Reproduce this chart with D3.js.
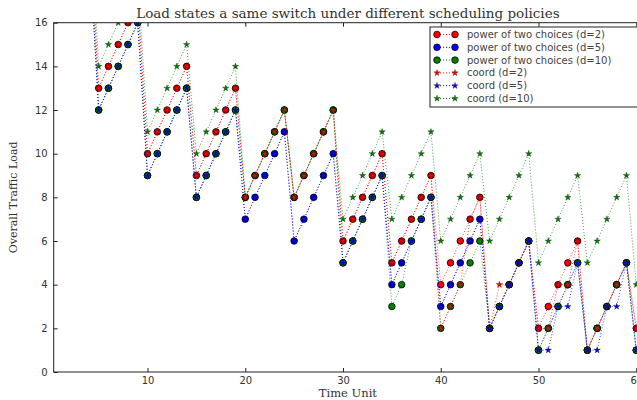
<!DOCTYPE html>
<html>
<head>
<meta charset="utf-8">
<script src="https://cdn.jsdelivr.net/npm/d3@7/dist/d3.min.js"></script>
<style>
	body { margin: 0; background: #fff; }
	svg { display: block; }
	.axis text { font-family: 'DejaVu Sans', sans-serif; font-size: 10px; fill: #333; }
	.axis path, .axis line { stroke: #222; }
	.label { font-family: 'DejaVu Serif', serif; fill: #333; }
	.legend text { font-family: 'DejaVu Sans', sans-serif; font-size: 10px; fill: #444; }
</style>
</head>
<body>
<svg id="chart"></svg>
<script>

// time axis (one point per time unit)
const timeUnits = [4, 5, 6, 7, 8, 9, 10, 11, 12, 13, 14, 15, 16, 17, 18, 19, 20, 21, 22, 23, 24, 25, 26, 27, 28, 29, 30, 31, 32, 33, 34, 35, 36, 37, 38, 39, 40, 41, 42, 43, 44, 45, 46, 47, 48, 49, 50, 51, 52, 53, 54, 55, 56, 57, 58, 59, 60]

// load values
const p2cD2 = [21, 13, 14, 15, 16, 17, 10, 11, 12, 13, 14, 9, 10, 11, 12, 13, 8, 9, 10, 11, 12, 8, 9, 10, 11, 12, 6, 7, 8, 9, 10, 5, 6, 7, 8, 9, 4, 5, 6, 7, 8, 2, 3, 4, 5, 6, 2, 3, 4, 5, 6, 1, 2, 3, 4, 5, 2]
const p2cD5 = [20, 12, 13, 14, 15, 16, 9, 10, 11, 12, 13, 8, 9, 10, 11, 12, 7, 8, 9, 10, 11, 6, 7, 8, 9, 10, 5, 6, 7, 8, 9, 4, 5, 6, 7, 8, 3, 4, 5, 6, 7, 2, 3, 4, 5, 6, 1, 2, 3, 4, 5, 1, 2, 3, 4, 5, 1]
const p2cD10 = [20, 12, 13, 14, 15, 16, 9, 10, 11, 12, 13, 8, 9, 10, 11, 12, 8, 9, 10, 11, 12, 8, 9, 10, 11, 12, 5, 6, 7, 8, 9, 3, 4, 6, 7, 8, 2, 3, 4, 5, 6, 2, 3, 4, 5, 6, 1, 2, 3, 4, 5, 1, 2, 3, 4, 5, 1]
const coordD2 = [21, 13, 14, 15, 16, 17, 10, 11, 12, 13, 14, 9, 10, 11, 12, 13, 8, 9, 10, 11, 12, 8, 9, 10, 11, 12, 6, 7, 8, 9, 10, 5, 6, 7, 8, 9, 2, 3, 4, 7, 8, 2, 4, 4, 5, 6, 2, 2, 4, 4, 6, 1, 2, 3, 4, 5, 2]
const coordD5 = [20, 12, 13, 14, 15, 16, 9, 10, 11, 12, 13, 8, 9, 10, 11, 12, 7, 8, 9, 10, 11, 6, 7, 8, 9, 10, 5, 6, 7, 8, 9, 4, 5, 6, 7, 8, 3, 4, 5, 6, 7, 2, 3, 4, 5, 6, 1, 1, 3, 3, 5, 1, 1, 3, 3, 5, 1]
const coordD10 = [22, 14, 15, 16, 17, 18, 11, 12, 13, 14, 15, 10, 11, 12, 13, 14, 8, 9, 10, 11, 12, 8, 9, 10, 11, 12, 7, 8, 9, 10, 11, 7, 8, 9, 10, 11, 6, 7, 8, 9, 10, 6, 7, 8, 9, 10, 5, 6, 7, 8, 9, 5, 6, 7, 8, 9, 4]

const xTicks = [10, 20, 30, 40, 50, 60]
const yTicks = [0, 2, 4, 6, 8, 10, 12, 14, 16]

const series = [
	{ label: 'power of two choices (d=2)', values: p2cD2, color: '#ff0000', marker: 'circle' },
	{ label: 'power of two choices (d=5)', values: p2cD5, color: '#0000ff', marker: 'circle' },
	{ label: 'power of two choices (d=10)', values: p2cD10, color: '#008000', marker: 'circle' },
	{ label: 'coord (d=2)', values: coordD2, color: '#ff0000', marker: 'star' },
	{ label: 'coord (d=5)', values: coordD5, color: '#0000ff', marker: 'star' },
	{ label: 'coord (d=10)', values: coordD10, color: '#008000', marker: 'star' },
]

// order in which series are painted (stars on top)
const drawOrder = [0, 1, 2, 5, 3, 4]

const outerWidth = 637
const outerHeight = 400
const margin = { top: 22.7, left: 53.7 }
const plotRight = 642.1
const plotBottom = 372

const svg = d3.select('#chart')
	.attr('width', outerWidth)
	.attr('height', outerHeight)

const x = d3.scaleLinear().domain([0.4, 60.6]).range([margin.left, plotRight])
const y = d3.scaleLinear().domain([0, 16]).range([plotBottom, margin.top])

svg.append('clipPath')
	.attr('id', 'plot-clip')
.append('rect')
	.attr('x', margin.left)
	.attr('y', margin.top)
	.attr('width', plotRight - margin.left)
	.attr('height', plotBottom - margin.top)

const starSymbol = d3.symbol().type(d3.symbolStar).size(13)

const plot = svg.append('g').attr('clip-path', 'url(#plot-clip)')

const line = d3.line()
	.x(d => x(d[0]))
	.y(d => y(d[1]))

const drawMarkers = (g, s, pts) => {
	if (s.marker === 'circle') {
		g.selectAll(null)
			.data(pts)
			.join('circle')
			.attr('cx', d => x(d[0]))
			.attr('cy', d => y(d[1]))
			.attr('r', 3.3)
			.attr('fill', s.color)
			.attr('stroke', '#000')
			.attr('stroke-width', 0.8)
	} else {
		g.selectAll(null)
			.data(pts)
			.join('path')
			.attr('d', starSymbol)
			.attr('transform', d => `translate(${x(d[0])},${y(d[1])})`)
			.attr('fill', s.color)
			.attr('stroke', '#000')
			.attr('stroke-width', 0.3)
	}
}

drawOrder.forEach(i => {
	const s = series[i]
	const pts = timeUnits.map((t, j) => [t, s.values[j]])
	plot.append('path')
		.datum(pts)
		.attr('d', line)
		.attr('fill', 'none')
		.attr('stroke', s.color)
		.attr('stroke-width', 1)
		.attr('stroke-opacity', 0.75)
		.attr('stroke-dasharray', '1,2')
	drawMarkers(plot.append('g'), s, pts)
})

// axes with inward ticks
svg.append('g')
	.attr('class', 'axis')
	.attr('transform', `translate(0, ${plotBottom})`)
	.call(d3.axisBottom(x).tickValues(xTicks).tickSizeInner(-4).tickSizeOuter(0).tickPadding(5))

svg.append('g')
	.attr('class', 'axis')
	.attr('transform', `translate(0, ${margin.top})`)
	.call(d3.axisTop(x).tickValues(xTicks).tickSizeInner(-4).tickSizeOuter(0).tickFormat(''))

svg.append('g')
	.attr('class', 'axis')
	.attr('transform', `translate(${margin.left}, 0)`)
	.call(d3.axisLeft(y).tickValues(yTicks).tickSizeInner(-4).tickSizeOuter(0).tickPadding(6))

svg.selectAll('.axis .domain').remove()

svg.append('rect')
	.attr('x', margin.left)
	.attr('y', margin.top)
	.attr('width', plotRight - margin.left)
	.attr('height', plotBottom - margin.top)
	.attr('fill', 'none')
	.attr('stroke', '#222')
	.attr('stroke-width', 1)

// labels
svg.append('text')
	.attr('class', 'label')
	.attr('x', (margin.left + plotRight) / 2)
	.attr('y', 18)
	.attr('text-anchor', 'middle')
	.style('font-size', '13.5px')
	.text('Load states a same switch under different scheduling policies')

svg.append('text')
	.attr('class', 'label')
	.attr('x', (margin.left + plotRight) / 2)
	.attr('y', 397)
	.attr('text-anchor', 'middle')
	.style('font-size', '11.5px')
	.text('Time Unit')

svg.append('text')
	.attr('class', 'label')
	.attr('transform', `translate(17, ${(margin.top + plotBottom) / 2}) rotate(-90)`)
	.attr('text-anchor', 'middle')
	.style('font-size', '11px')
	.text('Overall Traffic Load')

// legend
const legend = svg.append('g').attr('class', 'legend')

legend.append('rect')
	.attr('x', 430)
	.attr('y', 27)
	.attr('width', 220)
	.attr('height', 80)
	.attr('fill', '#fff')
	.attr('stroke', '#222')

series.forEach((s, i) => {
	const ly = 34.5 + i * 12.8
	const row = legend.append('g')
	row.append('line')
		.attr('x1', 437).attr('x2', 455)
		.attr('y1', ly).attr('y2', ly)
		.attr('stroke', s.color)
		.attr('stroke-dasharray', '1,2')
	drawMarkers(row, s, [[x.invert(437), y.invert(ly)], [x.invert(455), y.invert(ly)]])
	row.append('text')
		.attr('x', 467)
		.attr('y', ly)
		.attr('dy', '0.35em')
		.text(s.label)
})

</script>
</body>
</html>
